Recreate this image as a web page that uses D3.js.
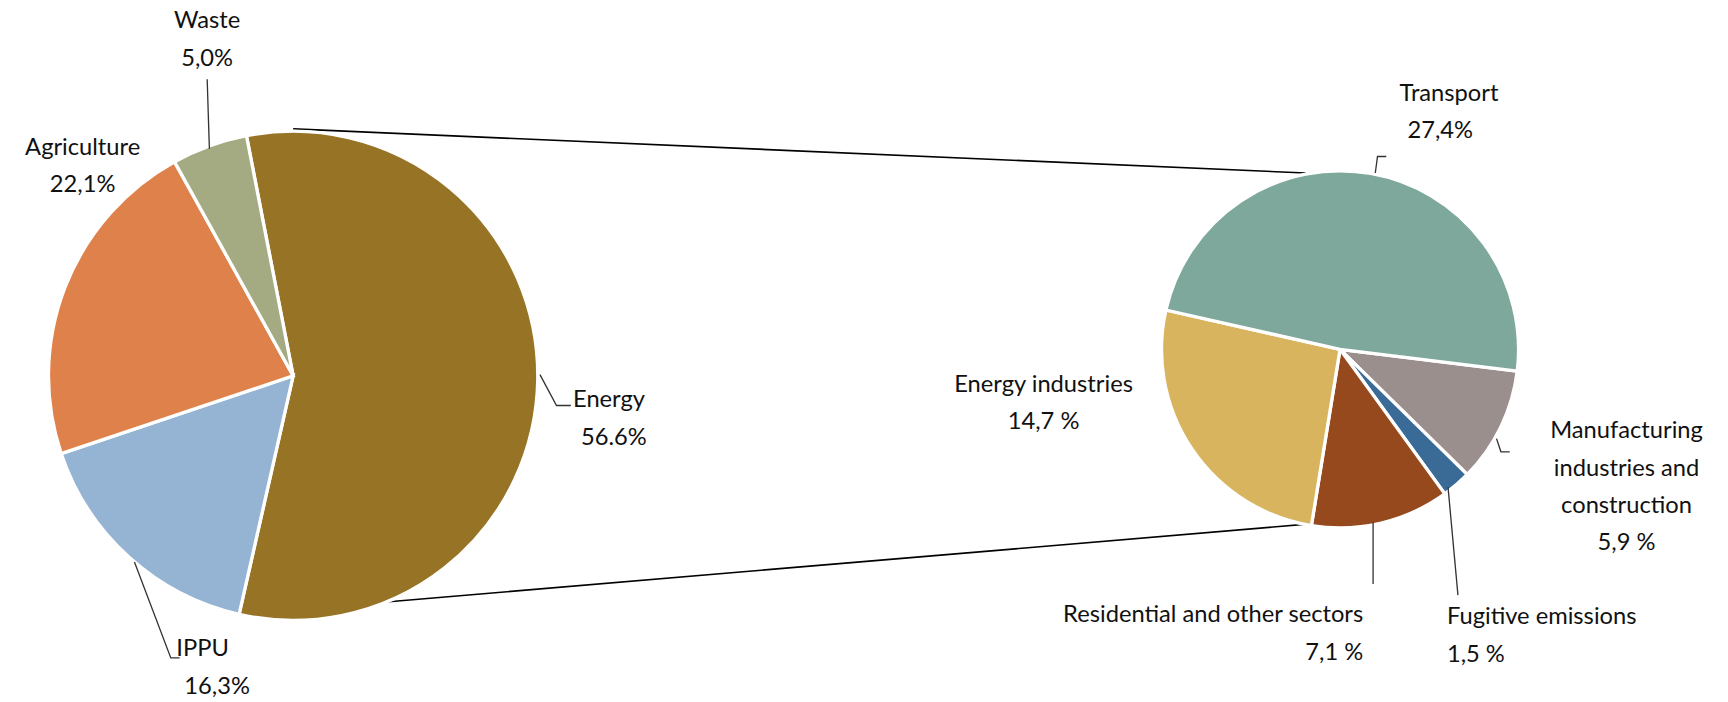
<!DOCTYPE html>
<html><head><meta charset="utf-8">
<script src="https://cdn.jsdelivr.net/npm/d3@7"></script>
<style>body{margin:0;background:#fff}text{font-family:Lato,"Open Sans",sans-serif;font-size:21.5px;fill:#111}</style>
</head><body><svg id="c" width="1728" height="702"></svg>
<script>
const mainCats = ["Energy","IPPU","Agriculture","Waste"];
const mainVals = [56.6,16.3,22.1,5.0];
const mainLabels = ["56.6%","16,3%","22,1%","5,0%"];
const mainColors = ["#977425","#95b3d3","#df814b","#a4ab82"];
const subCats = ["Manufacturing industries and construction","Fugitive emissions","Residential and other sectors","Energy industries","Transport"];
const subVals = [5.9,1.5,7.1,14.7,27.4];
const subLabels = ["5,9 %","1,5 %","7,1 %","14,7 %","27,4%"];
const subColors = ["#9a8f8d","#3a6a96","#96491c","#d9b45f","#7ea89b"];

const svg = d3.select("#c");
const g = svg.append("g").attr("transform","scale(1.102)");
const deg = Math.PI/180;

g.append("line").attr("x1",266).attr("y1",117).attr("x2",1185).attr("y2",157).attr("stroke","#000").attr("stroke-width",1.5);
g.append("line").attr("x1",318).attr("y1",549).attr("x2",1205).attr("y2",474).attr("stroke","#000").attr("stroke-width",1.5);

const pie1 = d3.pie().sort(null).startAngle(-11*deg).endAngle(349*deg);
const arc1 = d3.arc().innerRadius(0).outerRadius(222);
g.append("g").attr("transform","translate(266,341)").selectAll("path")
 .data(pie1(mainVals)).join("path").attr("d",arc1)
 .attr("fill",(d,i)=>mainColors[i]).attr("stroke","#fff").attr("stroke-width",3);

const pie2 = d3.pie().sort(null).startAngle(97*deg).endAngle(457*deg);
const arc2 = d3.arc().innerRadius(0).outerRadius(162);
g.append("g").attr("transform","translate(1216,317)").selectAll("path")
 .data(pie2(subVals)).join("path").attr("d",arc2)
 .attr("fill",(d,i)=>subColors[i]).attr("stroke","#fff").attr("stroke-width",3);

const lines = [
 [[188,72],[190,135]],
 [[490,340],[505,368],[518,368]],
 [[122,510],[155,597],[163,597]],
 [[1248,157],[1250,142],[1258,142]],
 [[1358,398],[1362,410],[1370,410]],
 [[1246,474],[1246,530]],
 [[1314,442],[1323,540]]
];
lines.forEach(p=>g.append("path").attr("d",d3.line()(p)).attr("fill","none").attr("stroke","#333").attr("stroke-width",1.2));

function lbl(x,y,anchor,arr){
  const t=g.append("text").attr("text-anchor",anchor);
  arr.forEach((s,i)=>t.append("tspan").attr("x",x).attr("y",y+i*34).attr("dy","0.35em").text(s));
}
lbl(188,18,"middle",[mainCats[3],mainLabels[3]]);
lbl(75,133,"middle",[mainCats[2],mainLabels[2]]);
lbl(520,362,"start",[mainCats[0]]);
lbl(557,396,"middle",[mainLabels[0]]);
lbl(160,588,"start",[mainCats[1]]);
lbl(197,622,"middle",[mainLabels[1]]);
lbl(1270,84,"start",[subCats[4]]);
lbl(1307,118,"middle",[subLabels[4]]);
lbl(947,348,"middle",[subCats[3],subLabels[3]]);
lbl(1476,390,"middle",["Manufacturing","industries and","construction",subLabels[0]]);
lbl(1237,557,"end",[subCats[2],subLabels[2]]);
lbl(1313,559,"start",[subCats[1],subLabels[1]]);
</script></body></html>
